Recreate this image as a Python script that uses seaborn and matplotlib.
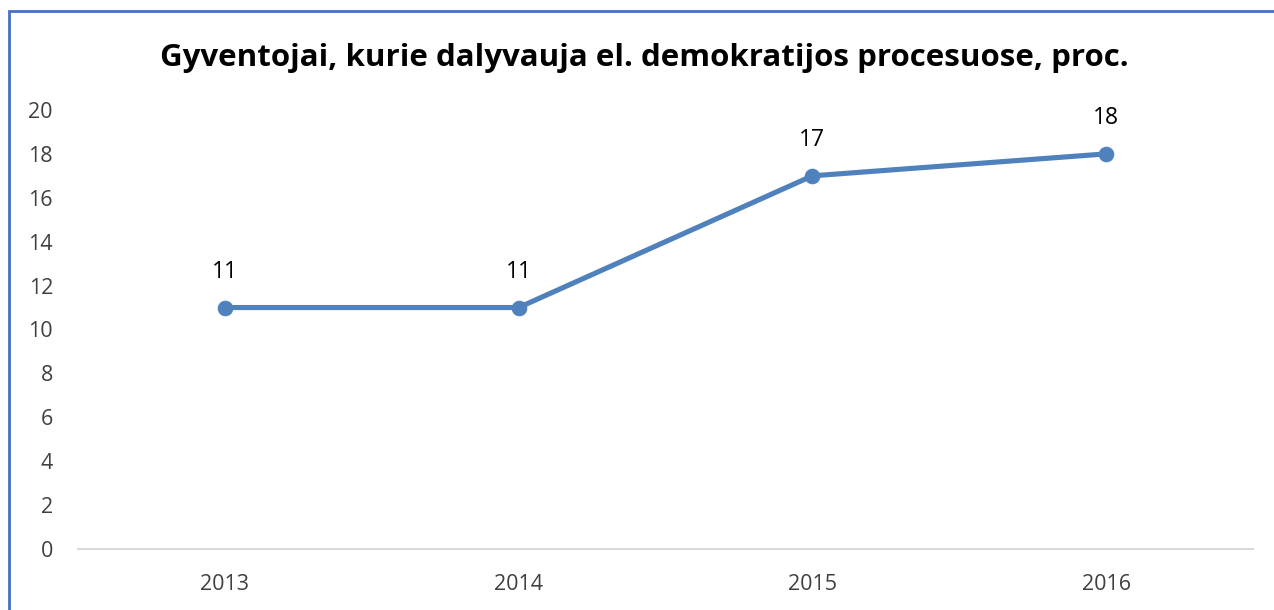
import matplotlib
matplotlib.use("Agg")
import matplotlib.pyplot as plt
import pandas as pd
import seaborn as sns
from matplotlib.patches import Rectangle

years = ["2013", "2014", "2015", "2016"]
values = [11, 11, 17, 18]
y_ticks = [0, 2, 4, 6, 8, 10, 12, 14, 16, 18, 20]
title = "Gyventojai, kurie dalyvauja el. demokratijos procesuose, proc."

sns.set_style("white")
plt.rcParams["font.family"] = ["Open Sans", "DejaVu Sans"]

line_color = "#4F81BD"
text_color = "#404040"

df = pd.DataFrame({"year": years, "value": values})

fig = plt.figure(figsize=(12.74, 6.10), dpi=100)
ax = fig.add_axes([0.0612, 0.10, 0.9223, 0.7197])

sns.lineplot(
    data=df, x="year", y="value", ax=ax, sort=False,
    color=line_color, linewidth=3.7, marker="o", markersize=10.5,
    markeredgecolor=line_color,
)

for i, v in enumerate(values):
    ax.annotate(str(v), (i, v), xytext=(0, 17), textcoords="offset points",
                ha="center", va="bottom", fontsize=16.5, color="black")

ax.set_xlim(-0.5, len(years) - 0.5)
ax.set_ylim(0, 20)
ax.set_yticks(y_ticks)
ax.tick_params(axis="both", length=0, labelsize=15.5, colors=text_color)
ax.tick_params(axis="y", pad=18)
ax.tick_params(axis="x", pad=18)
ax.set_xlabel("")
ax.set_ylabel("")
for s in ["left", "right", "top"]:
    ax.spines[s].set_visible(False)
ax.spines["bottom"].set_color("#D9D9D9")
ax.spines["bottom"].set_linewidth(1.5)

fig.text(0.506, 0.905, title, ha="center", va="center",
         fontsize=22.5, fontweight="bold", color="black")

# chart frame, only the top and left edges are inside the picture
fig.patches.append(Rectangle((0.007, -0.05), 1.2, 1.032,
                             transform=fig.transFigure, fill=False,
                             edgecolor="#4472C4", linewidth=2))

fig.savefig("out.png", dpi=100)
plt.close(fig)
